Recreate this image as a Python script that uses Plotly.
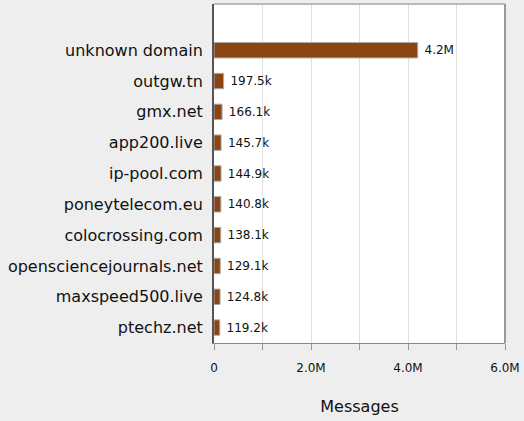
import plotly.graph_objects as go

domains = ["unknown domain", "outgw.tn", "gmx.net", "app200.live", "ip-pool.com",
           "poneytelecom.eu", "colocrossing.com", "opensciencejournals.net",
           "maxspeed500.live", "ptechz.net"]
messages = [4200000, 197500, 166100, 145700, 144900, 140800, 138100, 129100, 124800, 119200]
labels = ["4.2M", "197.5k", "166.1k", "145.7k", "144.9k", "140.8k", "138.1k", "129.1k", "124.8k", "119.2k"]
tick_vals = [0, 1000000, 2000000, 3000000, 4000000, 5000000, 6000000]
tick_text = ["0", "", "2.0M", "", "4.0M", "", "6.0M"]

fig = go.Figure(go.Bar(
    x=messages, y=domains, orientation="h",
    marker=dict(color="#8b4513", line=dict(color="#aaaaaa", width=1)),
    width=0.5,
    text=["\u00a0" + t for t in labels], textposition="outside", cliponaxis=False,
    textfont=dict(family="DejaVu Sans", size=12, color="#111111"),
))
fig.update_layout(
    width=524, height=421,
    margin=dict(l=214, r=19, t=4, b=78),
    paper_bgcolor="#eeeeee", plot_bgcolor="#ffffff",
    font=dict(family="DejaVu Sans", color="#111111"),
    showlegend=False,
)
fig.update_xaxes(
    range=[0, 6000000], tickvals=tick_vals, ticktext=tick_text,
    showgrid=True, gridcolor="#e0e0e0", zeroline=False,
    showline=True, linecolor="#888888", mirror=False,
    ticks="outside", ticklen=6, tickcolor="#999999",
    tickfont=dict(size=12), ticklabelstandoff=8,
    title=dict(text="Messages", font=dict(size=16), standoff=26),
)
fig.update_yaxes(
    categoryorder="array", categoryarray=domains,
    range=[9.5, -1.5],
    showgrid=False, showline=True, linecolor="#555555", linewidth=2,
    ticks="", tickfont=dict(size=16), ticklabelstandoff=6,
)
fig.add_shape(type="line", xref="paper", yref="paper", x0=0, y0=1, x1=1, y1=1,
              line=dict(color="#bbbbbb", width=2))
fig.add_shape(type="line", xref="paper", yref="paper", x0=1, y0=0, x1=1, y1=1,
              line=dict(color="#999999", width=2))
fig.write_html("out.html", config={"displayModeBar": False},
               post_script="document.body.style.margin='0';")
